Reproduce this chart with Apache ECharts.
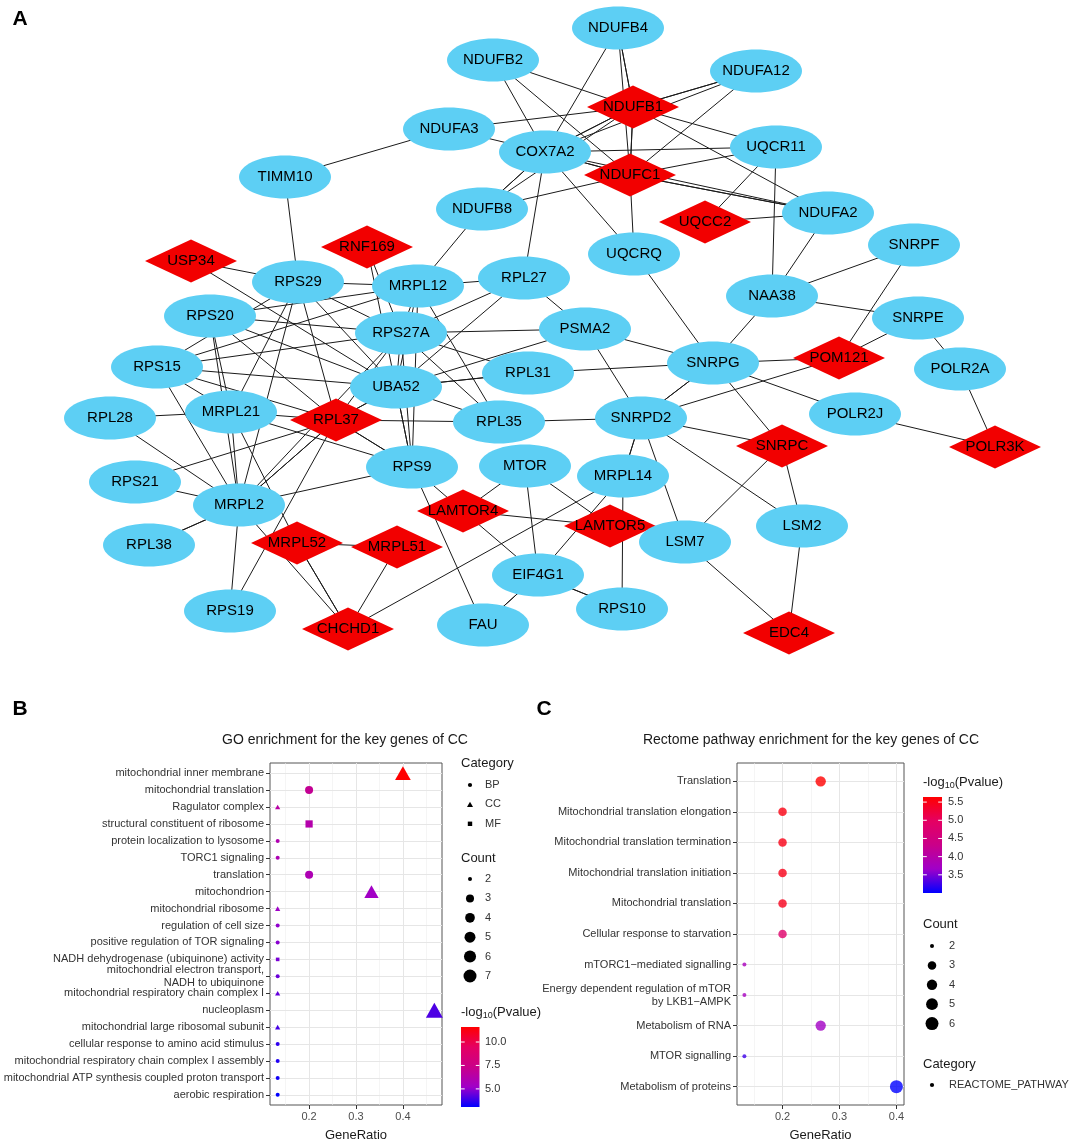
<!DOCTYPE html>
<html><head><meta charset="utf-8">
<script src="https://cdn.jsdelivr.net/npm/echarts@6/dist/echarts.min.js"></script>
<style>html,body{margin:0;padding:0;background:#fff}#c{width:1072px;height:1144px}</style>
</head><body><div id="c"></div>
<script>
// ================= Panel A: PPI network =================
const nodeNames = ['NDUFB4','NDUFB2','NDUFA12','NDUFB1','NDUFA3','COX7A2','UQCR11','NDUFC1','TIMM10','NDUFB8',
  'NDUFA2','UQCC2','UQCRQ','SNRPF','RNF169','USP34','RPL27','RPS29','MRPL12','NAA38',
  'RPS20','SNRPE','PSMA2','RPS27A','POM121','SNRPG','RPS15','POLR2A','RPL31','UBA52',
  'MRPL21','POLR2J','RPL28','SNRPD2','RPL37','RPL35','SNRPC','POLR3K','MTOR','RPS9',
  'MRPL14','RPS21','MRPL2','LAMTOR4','LAMTOR5','LSM2','LSM7','MRPL52','RPL38','MRPL51',
  'EIF4G1','RPS10','RPS19','FAU','CHCHD1','EDC4'];
const nodeX = [618,493,756,633,449,545,776,630,285,482,
  828,705,634,914,367,191,524,298,418,772,
  210,918,585,401,839,713,157,960,528,396,
  231,855,110,641,336,499,782,995,525,412,
  623,135,239,463,610,802,685,297,149,397,
  538,622,230,483,348,789];
const nodeY = [28,60,71,107,129,152,147,175,177,209,
  213,222,254,245,247,261,278,282,286,296,
  316,318,329,333,358,363,367,369,373,387,
  412,414,418,418,420,422,446,447,466,467,
  476,482,505,511,526,526,542,543,545,547,
  575,609,611,625,629,633];
const keyGenes = ['NDUFB1','NDUFC1','UQCC2','RNF169','USP34','POM121','RPL37','SNRPC','POLR3K',
  'LAMTOR4','LAMTOR5','MRPL52','MRPL51','CHCHD1','EDC4'];
const edges = [
 ['NDUFB2','NDUFB1'],['NDUFB2','COX7A2'],['NDUFB2','NDUFC1'],
 ['NDUFB4','NDUFB1'],['NDUFB4','NDUFB1'],['NDUFB4','NDUFC1'],['NDUFB4','COX7A2'],
 ['NDUFA12','NDUFB1'],['NDUFA12','NDUFB1'],['NDUFA12','COX7A2'],['NDUFA12','NDUFC1'],
 ['NDUFA3','NDUFB1'],['NDUFA3','COX7A2'],['NDUFA3','TIMM10'],
 ['COX7A2','NDUFB1'],['COX7A2','NDUFB1'],['COX7A2','NDUFC1'],['COX7A2','NDUFC1'],['COX7A2','UQCR11'],
 ['COX7A2','NDUFA2'],['COX7A2','UQCRQ'],['COX7A2','NDUFB8'],['COX7A2','NDUFB8'],['COX7A2','RPL27'],
 ['NDUFB1','NDUFC1'],['NDUFB1','NDUFC1'],['NDUFB1','UQCR11'],['NDUFB1','NDUFA2'],['NDUFB1','NDUFB8'],
 ['NDUFC1','UQCR11'],['NDUFC1','NDUFA2'],['NDUFC1','NDUFA2'],['NDUFC1','UQCRQ'],['NDUFC1','NDUFB8'],
 ['UQCR11','UQCC2'],['UQCR11','NAA38'],['UQCC2','NDUFA2'],['NDUFA2','NAA38'],
 ['NAA38','SNRPF'],['NAA38','SNRPE'],['NAA38','SNRPG'],
 ['SNRPF','POM121'],['SNRPE','POM121'],['SNRPE','POLR2A'],['POLR2A','POLR3K'],['POLR2J','POLR3K'],['POLR2J','SNRPG'],
 ['UQCRQ','SNRPG'],['NDUFB8','MRPL12'],['TIMM10','RPS29'],
 ['USP34','RPS29'],['USP34','UBA52'],['RNF169','RPS27A'],['RNF169','UBA52'],
 ['RPS29','MRPL12'],['RPS29','RPS27A'],['RPS29','UBA52'],['RPS29','RPL37'],['RPS29','MRPL21'],['RPS29','MRPL2'],['RPS29','RPS15'],
 ['RPS20','MRPL12'],['RPS20','RPS27A'],['RPS20','UBA52'],['RPS20','MRPL2'],['RPS20','MRPL21'],['RPS20','RPL37'],
 ['RPS15','MRPL12'],['RPS15','RPS27A'],['RPS15','UBA52'],['RPS15','RPL37'],['RPS15','MRPL2'],['RPS15','MRPL21'],
 ['RPL28','MRPL21'],['RPL28','MRPL2'],['RPS21','MRPL2'],['RPS21','RPL37'],['RPL38','MRPL2'],['RPL38','MRPL2'],
 ['RPS19','MRPL2'],['RPS19','RPL37'],
 ['MRPL21','MRPL2'],['MRPL21','RPL37'],['MRPL21','RPS9'],['MRPL21','MRPL52'],
 ['MRPL2','RPL37'],['MRPL2','RPL37'],['MRPL2','RPS9'],['MRPL2','RPS27A'],['MRPL2','CHCHD1'],
 ['MRPL52','MRPL51'],['MRPL52','CHCHD1'],['MRPL52','CHCHD1'],['MRPL51','CHCHD1'],
 ['RPL37','UBA52'],['RPL37','UBA52'],['RPL37','RPL35'],['RPL37','RPS9'],['RPL37','RPS9'],['RPL37','RPS27A'],
 ['RPS27A','UBA52'],['RPS27A','MRPL12'],['RPS27A','RPL27'],['RPS27A','RPL35'],['RPS27A','RPL31'],['RPS27A','RPS9'],['RPS27A','PSMA2'],
 ['UBA52','RPL27'],['UBA52','RPL31'],['UBA52','RPL31'],['UBA52','RPL35'],['UBA52','MRPL12'],['UBA52','RPS9'],['UBA52','RPS9'],['UBA52','PSMA2'],
 ['MRPL12','RPL27'],['MRPL12','RPS9'],['MRPL12','RPL35'],
 ['RPL27','PSMA2'],['PSMA2','SNRPG'],['PSMA2','SNRPD2'],['RPL31','SNRPG'],['RPL35','SNRPD2'],
 ['SNRPG','SNRPD2'],['SNRPG','SNRPD2'],['SNRPG','POM121'],['SNRPG','SNRPC'],
 ['SNRPD2','POM121'],['SNRPD2','SNRPC'],['SNRPD2','LSM2'],['SNRPD2','LSM7'],['SNRPD2','MRPL14'],['SNRPD2','MRPL14'],
 ['SNRPC','LSM7'],['SNRPC','LSM2'],['LSM2','EDC4'],['LSM7','EDC4'],
 ['MRPL14','EIF4G1'],['MRPL14','RPS10'],['MRPL14','CHCHD1'],
 ['MTOR','LAMTOR4'],['MTOR','EIF4G1'],['MTOR','LAMTOR5'],
 ['LAMTOR4','LAMTOR5'],['LAMTOR4','EIF4G1'],['LAMTOR4','RPS9'],
 ['EIF4G1','FAU'],['EIF4G1','FAU'],['EIF4G1','RPS10'],['EIF4G1','RPS10'],
 ['RPS9','FAU']
];

// ================= Panel B: GO enrichment =================
const goTerms = ['mitochondrial inner membrane','mitochondrial translation','Ragulator complex',
  'structural constituent of ribosome','protein localization to lysosome','TORC1 signaling','translation',
  'mitochondrion','mitochondrial ribosome','regulation of cell size','positive regulation of TOR signaling',
  'NADH dehydrogenase (ubiquinone) activity','mitochondrial electron transport,\nNADH to ubiquinone',
  'mitochondrial respiratory chain complex I','nucleoplasm','mitochondrial large ribosomal subunit',
  'cellular response to amino acid stimulus','mitochondrial respiratory chain complex I assembly',
  'mitochondrial ATP synthesis coupled proton transport','aerobic respiration'];
const goCategory = ['CC','BP','CC','MF','BP','BP','BP','CC','CC','BP','BP','MF','BP','CC','CC','CC','BP','BP','BP','BP'];
const goCount = [6,3,2,3,2,2,3,5,2,2,2,2,2,2,7,2,2,2,2,2];
const goRatio = [0.4,0.2,0.133,0.2,0.133,0.133,0.2,0.333,0.133,0.133,0.133,0.133,0.133,0.133,0.467,0.133,0.133,0.133,0.133,0.133];
const goLogP = [11.6,7.0,6.4,6.2,6.0,5.9,5.9,5.3,5.2,5.0,4.9,4.7,4.5,4.4,4.1,4.0,3.7,3.5,3.3,3.07];
const goXTicks = [0.2,0.3,0.4];
const goXMinor = [0.15,0.25,0.35,0.45];
const goColorTicks = [5.0,7.5,10.0];
const goCountLevels = [2,3,4,5,6,7];
const goCategoryLevels = ['BP','CC','MF'];

// ================= Panel C: Reactome =================
const reTerms = ['Translation','Mitochondrial translation elongation','Mitochondrial translation termination',
  'Mitochondrial translation initiation','Mitochondrial translation','Cellular response to starvation',
  'mTORC1\u2212mediated signalling','Energy dependent regulation of mTOR\nby LKB1\u2212AMPK',
  'Metabolism of RNA','MTOR signalling','Metabolism of proteins'];
const reCount = [4,3,3,3,3,3,2,2,4,2,6];
const reRatio = [0.267,0.2,0.2,0.2,0.2,0.2,0.133,0.133,0.267,0.133,0.4];
const reLogP = [5.64,5.52,5.5,5.48,5.45,4.85,3.8,3.75,3.7,3.25,3.0];
const reXTicks = [0.2,0.3,0.4];
const reXMinor = [0.15,0.25,0.35];
const reColorTicks = [3.5,4.0,4.5,5.0,5.5];
const reCountLevels = [2,3,4,5,6];
const reCategoryLevels = ['REACTOME_PATHWAY'];

// ================= styling / layout =================
const FONT = '"Liberation Sans", Arial, Helvetica, sans-serif';
const ELLIPSE = 'path://M0,22C0,9.85,20.15,0,45,0C69.85,0,90,9.85,90,22C90,34.15,69.85,44,45,44C20.15,44,0,34.15,0,22Z';
const BLUE = '#5DCFF4', RED = '#F20000';
const GRAD = ['#0000FF','#A000C8','#CA0089','#E50062','#FF0000'];
const sizeB = c => 4 + 9 * Math.sqrt((c - 2) / 5);
const sizeC = c => 4 + 9 * Math.sqrt((c - 2) / 4);
const GB = {left:270, top:763, width:172, height:342, xmin:0.11667, xmax:0.48333, cmin:3.07, cmax:11.6};
const GC = {left:737, top:763, width:167, height:342, xmin:0.12, xmax:0.41333, cmin:3.0, cmax:5.64};

const chart = echarts.init(document.getElementById('c'), null, {renderer:'canvas'});

const graphData = nodeNames.map((n, i) => {
  const key = keyGenes.indexOf(n) >= 0;
  return {name:n, value:[nodeX[i], nodeY[i]], symbol: key ? 'diamond' : ELLIPSE,
    itemStyle:{color: key ? RED : BLUE}};
});

function gridLines(terms, majors, minors) {
  const d = [];
  minors.forEach(v => d.push({xAxis:v, lineStyle:{width:0.6, color:'#EFEFEF'}}));
  majors.forEach(v => d.push({xAxis:v, lineStyle:{width:1, color:'#E6E6E6'}}));
  terms.forEach((t, i) => d.push({yAxis:i + 1, lineStyle:{width:1, color:'#E6E6E6'}}));
  return {silent:true, symbol:['none','none'], label:{show:false}, z:1, animation:false,
    lineStyle:{type:'solid'}, data:d};
}

function goSeries(cat, symbol) {
  const data = [];
  goTerms.forEach((t, i) => { if (goCategory[i] === cat) data.push([goRatio[i], i + 1, goCount[i], goLogP[i]]); });
  const s = {type:'scatter', name:cat, xAxisIndex:1, yAxisIndex:1, symbol, data, z:3,
    symbolSize: v => { const d = sizeB(v[2]);
      return symbol === 'triangle' ? [d * 1.3, d * 1.15] : symbol === 'rect' ? [d * 0.9, d * 0.9] : d; },
    itemStyle:{opacity:1}, emphasis:{disabled:true}};
  if (cat === 'BP') s.markLine = gridLines(goTerms, goXTicks, goXMinor);
  return s;
}

function xAxisCfg(gi, G, ticks) {
  return {gridIndex:gi, type:'value', min:G.xmin, max:G.xmax,
    axisLine:{show:false}, splitLine:{show:false},
    axisTick:{show:true, customValues:ticks, length:4, lineStyle:{color:'#333'}},
    axisLabel:{customValues:ticks, formatter:v => v.toFixed(1), color:'#4D4D4D', fontSize:11, margin:6, fontFamily:FONT},
    name:'GeneRatio', nameLocation:'middle', nameGap:24, nameMoveOverlap:false,
    nameTextStyle:{fontSize:13, color:'#1a1a1a', fontFamily:FONT}};
}
function yAxisCfg(gi, terms) {
  const vals = terms.map((t, i) => i + 1);
  return {gridIndex:gi, type:'value', min:0.4, max:terms.length + 0.6, inverse:true,
    axisLine:{show:false}, splitLine:{show:false},
    axisTick:{show:true, customValues:vals, length:4, lineStyle:{color:'#333'}},
    axisLabel:{customValues:vals, formatter:v => terms[Math.round(v) - 1], color:'#333',
      fontSize:11, margin:6, lineHeight:13, fontFamily:FONT}};
}

// ---------- graphic: labels, titles, legends ----------
const g = [];
function txt(x, y, s, size, opt) {
  g.push({type:'text', x, y, silent:true, style:Object.assign({text:s, fill:'#1a1a1a',
    font: size + 'px ' + FONT, align:'left', verticalAlign:'middle',
    textAlign:'left', textVerticalAlign:'middle'}, opt || {})});
}
function bold(x, y, s) { txt(x, y, s, 21, {font:'bold 21px ' + FONT, fill:'#000', align:'center', textAlign:'center'}); }
function circle(cx, cy, d, fill) { g.push({type:'circle', silent:true, shape:{cx, cy, r:d / 2}, style:{fill:fill || '#000'}}); }
function tri(cx, cy, w, h) { g.push({type:'polygon', silent:true, shape:{points:[[cx, cy - h / 2],[cx + w / 2, cy + h / 2],[cx - w / 2, cy + h / 2]]}, style:{fill:'#000'}}); }
function sq(cx, cy, s) { g.push({type:'rect', silent:true, shape:{x:cx - s / 2, y:cy - s / 2, width:s, height:s}, style:{fill:'#000'}}); }
function logTitle(x, y) {
  g.push({type:'text', x, y, silent:true, style:{
    text:'{a|-log}{s|10}{a|(Pvalue)}', align:'left', verticalAlign:'middle', textAlign:'left', textVerticalAlign:'middle',
    rich:{a:{fontSize:13, fontFamily:FONT, fill:'#1a1a1a', color:'#1a1a1a', lineHeight:16},
          s:{fontSize:9, fontFamily:FONT, fill:'#1a1a1a', color:'#1a1a1a', lineHeight:16, verticalAlign:'bottom', padding:[4,0,0,0]}}}});
}
function colorbar(x, top, w, h, min, max, ticks, labX) {
  g.push({type:'rect', silent:true, shape:{x, y:top, width:w, height:h},
    style:{fill:{type:'linear', x:0, y:1, x2:0, y2:0,
      colorStops:GRAD.map((c, i) => ({offset:i / (GRAD.length - 1), color:c}))}}});
  ticks.forEach(v => {
    const y = top + h - (v - min) / (max - min) * h;
    g.push({type:'line', silent:true, shape:{x1:x, y1:y, x2:x + w / 5, y2:y}, style:{stroke:'#fff', lineWidth:1}});
    g.push({type:'line', silent:true, shape:{x1:x + w - w / 5, y1:y, x2:x + w, y2:y}, style:{stroke:'#fff', lineWidth:1}});
    txt(labX, y, v.toFixed(1), 11, {fill:'#333'});
  });
}

bold(20, 19, 'A'); bold(20, 709, 'B'); bold(544, 709, 'C');
txt(345, 740, 'GO enrichment for the key genes of CC', 14, {align:'center', textAlign:'center'});
txt(811, 740, 'Rectome pathway enrichment for the key genes of CC', 14, {align:'center', textAlign:'center'});

// B legends
txt(461, 763, 'Category', 13);
goCategoryLevels.forEach((c, i) => {
  const y = 785 + i * 19.4;
  if (c === 'BP') circle(470, y, 4.2); else if (c === 'CC') tri(470, y, 6, 5.2); else sq(470, y, 4.4);
  txt(485, y, c, 11, {fill:'#333'});
});
txt(461, 858, 'Count', 13);
goCountLevels.forEach((c, i) => { const y = 879 + i * 19.4; circle(470, y, sizeB(c)); txt(485, y, String(c), 11, {fill:'#333'}); });
logTitle(461, 1012);
colorbar(461, 1027, 18.5, 80, GB.cmin, GB.cmax, goColorTicks, 485);

// C legends
logTitle(923, 782);
colorbar(923, 797, 19, 96, GC.cmin, GC.cmax, reColorTicks, 948);
txt(923, 924, 'Count', 13);
reCountLevels.forEach((c, i) => { const y = 946 + i * 19.4; circle(932, y, sizeC(c)); txt(949, y, String(c), 11, {fill:'#333'}); });
txt(923, 1064, 'Category', 13);
reCategoryLevels.forEach((c, i) => { const y = 1085 + i * 19.4; circle(932, y, 4.2); txt(949, y, c, 11, {fill:'#333'}); });

const reData = reTerms.map((t, i) => [reRatio[i], i + 1, reCount[i], reLogP[i]]);

const option = {
  animation:false,
  backgroundColor:'#fff',
  textStyle:{fontFamily:FONT},
  grid:[
    {left:0, top:0, width:1072, height:660, show:false, containLabel:false, outerBoundsMode:'none'},
    {left:GB.left, top:GB.top, width:GB.width, height:GB.height, show:true, borderColor:'#555', borderWidth:1,
      backgroundColor:'rgba(0,0,0,0)', containLabel:false, outerBoundsMode:'none'},
    {left:GC.left, top:GC.top, width:GC.width, height:GC.height, show:true, borderColor:'#555', borderWidth:1,
      backgroundColor:'rgba(0,0,0,0)', containLabel:false, outerBoundsMode:'none'}
  ],
  xAxis:[
    {gridIndex:0, type:'value', min:0, max:1072, show:false},
    xAxisCfg(1, GB, goXTicks),
    xAxisCfg(2, GC, reXTicks)
  ],
  yAxis:[
    {gridIndex:0, type:'value', min:0, max:660, inverse:true, show:false},
    yAxisCfg(1, goTerms),
    yAxisCfg(2, reTerms)
  ],
  visualMap:[
    {show:false, type:'continuous', seriesIndex:[1,2,3], dimension:3, min:GB.cmin, max:GB.cmax, inRange:{color:GRAD}},
    {show:false, type:'continuous', seriesIndex:[4], dimension:3, min:GC.cmin, max:GC.cmax, inRange:{color:GRAD}}
  ],
  series:[
    {type:'graph', coordinateSystem:'cartesian2d', xAxisIndex:0, yAxisIndex:0, layout:'none', roam:false,
      data:graphData, links:edges.map(e => ({source:e[0], target:e[1]})),
      symbolSize:[92,43],
      autoCurveness:[0, 0.04, -0.04, 0.08],
      label:{show:true, position:'inside', color:'#000', fontSize:15, fontFamily:FONT, formatter:'{b}'},
      lineStyle:{color:'#1a1a1a', width:1, opacity:1, curveness:0},
      emphasis:{disabled:true}, z:2},
    goSeries('BP', 'circle'),
    goSeries('CC', 'triangle'),
    goSeries('MF', 'rect'),
    {type:'scatter', name:'REACTOME_PATHWAY', xAxisIndex:2, yAxisIndex:2, symbol:'circle', data:reData, z:3,
      symbolSize: v => sizeC(v[2]), emphasis:{disabled:true},
      markLine:gridLines(reTerms, reXTicks, reXMinor)}
  ],
  graphic:g
};
chart.setOption(option);
</script></body></html>
